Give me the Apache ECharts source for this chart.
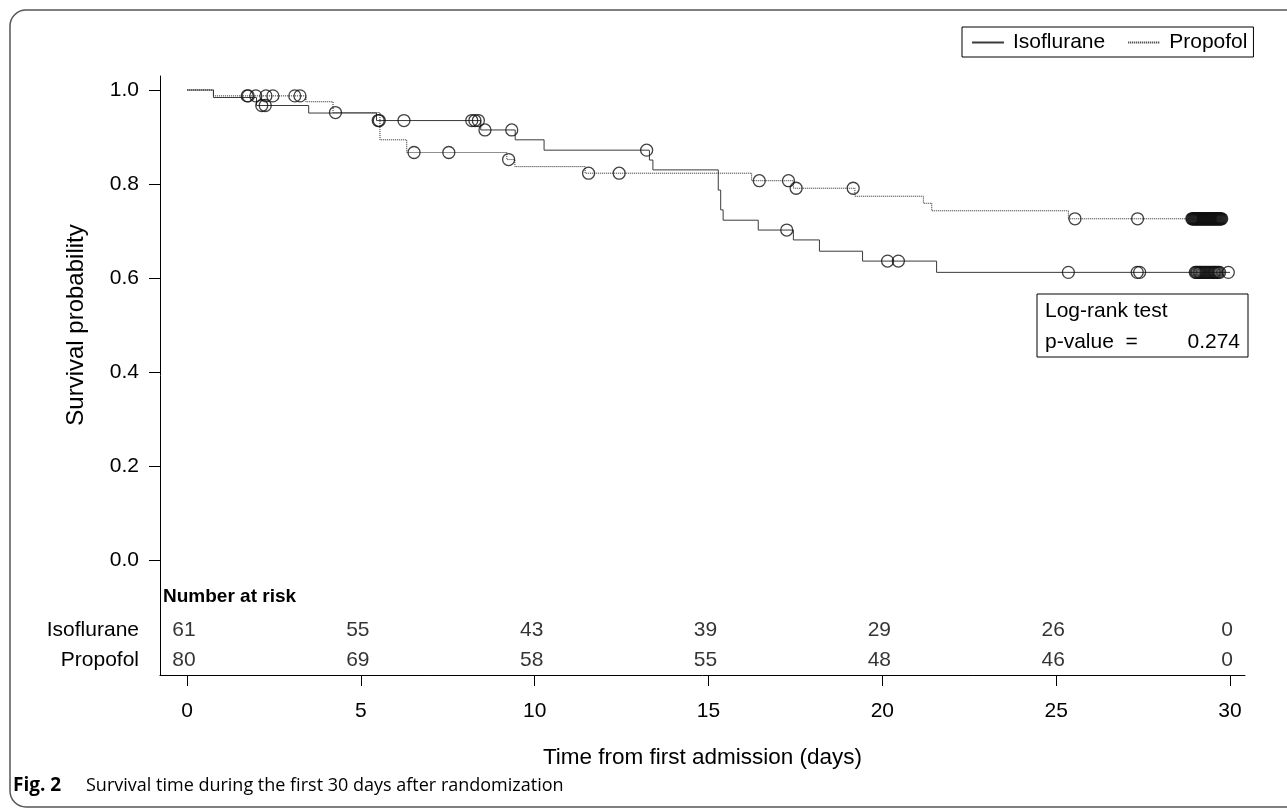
<!DOCTYPE html>
<html>
<head>
<meta charset="utf-8">
<script src="https://cdn.jsdelivr.net/npm/echarts@6/dist/echarts.min.js"></script>
<style>
html,body{margin:0;padding:0;background:#fff;}
#chart{width:1287px;height:812px;}
</style>
</head>
<body>
<div id="chart"></div>
<script>
// ---- Data ----
const isoTime = [0, 0.76, 2.0, 3.5, 5.45, 8.45, 9.44, 10.27, 13.3, 13.4, 15.28, 15.35, 15.42, 16.43, 17.44, 18.19, 19.43, 21.56, 30.0];
const isoSurv = [1.0, 0.984, 0.967, 0.951, 0.935, 0.915, 0.894, 0.872, 0.851, 0.830, 0.787, 0.745, 0.723, 0.702, 0.681, 0.657, 0.636, 0.612, 0.612];
const propTime = [0, 0.76, 3.42, 4.2, 5.55, 6.32, 9.2, 9.43, 11.45, 16.24, 17.44, 19.21, 21.18, 21.42, 25.35, 29.76];
const propSurv = [1.0, 0.9875, 0.975, 0.952, 0.894, 0.867, 0.852, 0.837, 0.823, 0.807, 0.791, 0.774, 0.759, 0.743, 0.726, 0.726];

const isoCensored = [2.15, 2.25, 5.5, 5.53, 6.24, 8.19, 8.28, 8.38, 8.57, 9.34, 13.22, 17.25, 20.15, 20.46, 25.35, 27.33, 27.4,
  29.0, 29.03, 29.06, 29.1, 29.13, 29.16, 29.2, 29.24, 29.28, 29.32, 29.36, 29.4, 29.44, 29.48, 29.52, 29.55, 29.58, 29.62, 29.66, 29.7, 29.95];
const propCensored = [1.73, 1.76, 1.98, 2.27, 2.47, 3.1, 3.25, 4.27, 6.53, 7.53, 9.25, 11.55, 12.43, 16.46, 17.3, 17.52, 19.16, 25.54, 27.34,
  28.9, 28.92, 28.94, 28.96, 28.98, 29.0, 29.02, 29.04, 29.06, 29.08, 29.1, 29.12, 29.14, 29.16, 29.18, 29.2, 29.22, 29.24, 29.26, 29.28,
  29.3, 29.32, 29.34, 29.36, 29.38, 29.4, 29.42, 29.44, 29.46, 29.48, 29.5, 29.52, 29.54, 29.56, 29.58, 29.6, 29.62, 29.64, 29.66,
  29.68, 29.7, 29.72, 29.74, 29.76];

const riskTimes = [0, 5, 10, 15, 20, 25, 30];
const isoAtRisk = [61, 55, 43, 39, 29, 26, 0];
const propAtRisk = [80, 69, 58, 55, 48, 46, 0];

const yTicks = [0, 0.2, 0.4, 0.6, 0.8, 1.0];
const xTicks = [0, 5, 10, 15, 20, 25, 30];
const groupNames = ['Isoflurane', 'Propofol'];
const pValue = '0.274';

// ---- helpers ----
function survAt(times, surv, t) {
  let s = surv[0];
  for (let i = 0; i < times.length; i++) { if (times[i] <= t) s = surv[i]; }
  return s;
}
const FONT = 'Liberation Sans, Arial, sans-serif';
const CAPFONT = 'Open Sans, Noto Sans, sans-serif';
const FS = 21;

const chart = echarts.init(document.getElementById('chart'), null, {renderer: 'canvas'});

const censorStyle = {color: 'rgba(0,0,0,0)', borderColor: '#111', borderWidth: 1.3};
const ISO_ROW = -0.149, PROP_ROW = -0.213;

const option = {
  animation: false,
  backgroundColor: '#fff',
  grid: {left: 160, top: 76, width: 1085, height: 599, containLabel: false},
  xAxis: {
    type: 'value', min: -0.7766, max: 30.43,
    splitLine: {show: false},
    axisLine: {show: true, onZero: false, lineStyle: {color: '#000', width: 1}},
    axisTick: {show: true, customValues: xTicks, length: 11, lineStyle: {color: '#000'}},
    axisLabel: {customValues: xTicks, margin: 26, color: '#000', fontSize: FS, fontFamily: FONT},
    name: 'Time from first admission (days)', nameLocation: 'middle', nameGap: 71,
    nameTextStyle: {color: '#000', fontSize: 22.5, fontFamily: FONT}
  },
  yAxis: {
    type: 'value', min: -0.2447, max: 1.0298,
    splitLine: {show: false},
    axisLine: {show: true, onZero: false, lineStyle: {color: '#000', width: 1}},
    axisTick: {show: true, customValues: yTicks, length: 11, lineStyle: {color: '#000'}},
    axisLabel: {customValues: yTicks, margin: 21, color: '#000', fontSize: FS, fontFamily: FONT,
      formatter: v => v.toFixed(1)}
  },
  legend: {
    data: groupNames, left: 962, top: 27, orient: 'horizontal',
    itemWidth: 32, itemHeight: 12, itemGap: 22,
    padding: [5, 6, 4, 9],
    borderColor: '#000', borderWidth: 1, backgroundColor: '#fff',
    itemStyle: {opacity: 0},
    textStyle: {color: '#000', fontSize: 21, fontFamily: FONT, padding: [0, 0, 0, 4]},
    selectedMode: false
  },
  series: [
    {
      name: groupNames[0], type: 'line', step: 'end', showSymbol: false, symbol: 'none',
      data: isoTime.map((t, i) => [t, isoSurv[i]]),
      lineStyle: {color: '#3a3a3a', width: 1, type: 'solid'}, itemStyle: {color: '#3a3a3a'}, z: 2
    },
    {
      name: groupNames[1], type: 'line', step: 'end', showSymbol: false, symbol: 'none',
      data: propTime.map((t, i) => [t, propSurv[i]]),
      lineStyle: {color: '#222', width: 1, type: [1, 1]}, itemStyle: {color: '#222'}, z: 3
    },
    {
      name: 'Isoflurane censored', type: 'scatter', symbol: 'circle', symbolSize: 12,
      data: isoCensored.map(t => [t, survAt(isoTime, isoSurv, t)]),
      itemStyle: censorStyle, z: 4
    },
    {
      name: 'Propofol censored', type: 'scatter', symbol: 'circle', symbolSize: 12,
      data: propCensored.map(t => [t, survAt(propTime, propSurv, t)]),
      itemStyle: censorStyle, z: 4
    },
    {
      name: 'Isoflurane at risk', type: 'scatter', symbolSize: 0,
      data: riskTimes.map((t, i) => [t, ISO_ROW, isoAtRisk[i]]),
      label: {show: true, position: 'inside', offset: [-3, 0], formatter: p => String(p.value[2]),
        color: '#000', fontSize: FS, fontFamily: FONT}
    },
    {
      name: 'Propofol at risk', type: 'scatter', symbolSize: 0,
      data: riskTimes.map((t, i) => [t, PROP_ROW, propAtRisk[i]]),
      label: {show: true, position: 'inside', offset: [-3, 0], formatter: p => String(p.value[2]),
        color: '#000', fontSize: FS, fontFamily: FONT}
    }
  ],
  graphic: [
    {type: 'rect', shape: {x: 10, y: 10, width: 1300, height: 797, r: 16}, silent: true,
      style: {fill: 'none', stroke: '#555', lineWidth: 1.5}, z: -1},
    {type: 'text', x: 76, y: 325, rotation: Math.PI / 2,
      style: {text: 'Survival probability', align: 'center', verticalAlign: 'middle', fontSize: 24, fontFamily: FONT, fill: '#000'}},
    {type: 'text', left: 163, top: 587, style: {text: 'Number at risk', fontSize: 19, fontWeight: 'bold', fontFamily: FONT, fill: '#000'}},
    {type: 'text', x: 139, y: 630, style: {text: groupNames[0], align: 'right', verticalAlign: 'middle', fontSize: 21, fontFamily: FONT, fill: '#000'}},
    {type: 'text', x: 139, y: 660, style: {text: groupNames[1], align: 'right', verticalAlign: 'middle', fontSize: 21, fontFamily: FONT, fill: '#000'}},
    {type: 'group', children: [
      {type: 'rect', shape: {x: 1037, y: 294, width: 211, height: 63}, style: {fill: '#fff', stroke: '#000', lineWidth: 1}},
      {type: 'text', x: 1045, y: 311, style: {text: 'Log-rank test', verticalAlign: 'middle', fontSize: FS, fontFamily: FONT, fill: '#000'}},
      {type: 'text', x: 1045, y: 342, style: {text: 'p-value  =', verticalAlign: 'middle', fontSize: FS, fontFamily: FONT, fill: '#000'}},
      {type: 'text', x: 1240, y: 342, style: {text: pValue, align: 'right', verticalAlign: 'middle', fontSize: FS, fontFamily: FONT, fill: '#000'}}
    ]},
    {type: 'text', x: 13, y: 786, style: {text: 'Fig. 2', verticalAlign: 'middle', fontSize: 19, fontWeight: 'bold', fontFamily: CAPFONT, fill: '#000'}},
    {type: 'text', x: 86, y: 786, style: {text: 'Survival time during the first 30 days after randomization', verticalAlign: 'middle', fontSize: 18, fontFamily: CAPFONT, fill: '#000'}}
  ]
};
chart.setOption(option);
</script>
</body>
</html>
